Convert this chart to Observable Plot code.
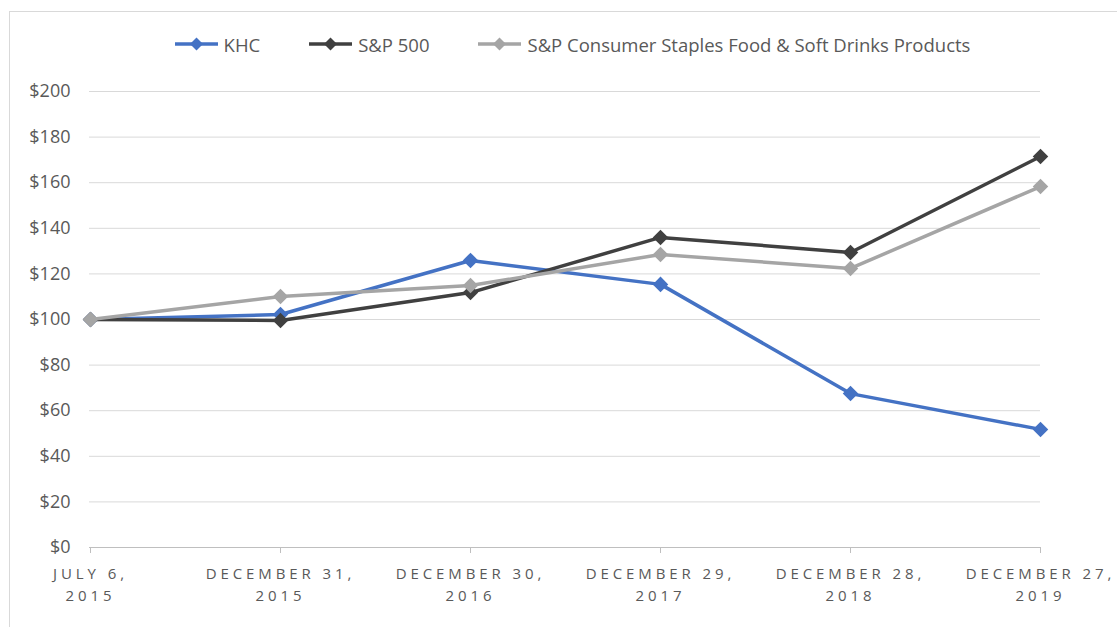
<!DOCTYPE html>
<html>
<head>
<meta charset="utf-8">
<script src="https://cdn.jsdelivr.net/npm/d3@7"></script>
<script src="https://cdn.jsdelivr.net/npm/@observablehq/plot@0.6"></script>
<style>
  html, body { margin: 0; padding: 0; background: #fff; }
  body { width: 1117px; height: 627px; position: relative; overflow: hidden; font-family: "Open Sans", sans-serif; }
  #frame { position: absolute; left: 9px; top: 11px; right: -2px; bottom: -2px; border-left: 1px solid #d9d9d9; border-top: 1px solid #d9d9d9; }
  #legend { position: absolute; top: 30px; left: 0; width: 1117px; height: 28px; display: flex; justify-content: center; align-items: center; gap: 49px; font-size: 18.5px; color: #595959; padding-left: 28px; box-sizing: border-box; }
  .item { display: flex; align-items: center; gap: 6px; }
  #chart { position: absolute; left: 0; top: 75px; }
  #chart g[aria-label="x-axis tick label"] text { letter-spacing: 3.9px; }
</style>
</head>
<body>
<div id="frame"></div>
<div id="legend"></div>
<div id="chart"></div>
<script>
const dates = ["JULY 6,\n2015", "DECEMBER 31,\n2015", "DECEMBER 30,\n2016", "DECEMBER 29,\n2017", "DECEMBER 28,\n2018", "DECEMBER 27,\n2019"];
const seriesNames = ["KHC", "S&P 500", "S&P Consumer Staples Food & Soft Drinks Products"];
const khc = [100, 102.2, 125.9, 115.4, 67.5, 51.8];
const sp500 = [100, 99.6, 111.8, 136.0, 129.4, 171.5];
const staples = [100, 110.1, 114.9, 128.5, 122.4, 158.3];
const yTicks = [0, 20, 40, 60, 80, 100, 120, 140, 160, 180, 200];
const colors = ["#4472C4", "#404040", "#A5A5A5"];

const seriesValues = [khc, sp500, staples];
const data = seriesNames.flatMap((name, i) => dates.map((d, j) => ({series: name, date: d, value: seriesValues[i][j]})));

// legend
const legend = document.getElementById("legend");
seriesNames.forEach((name, i) => {
  const item = document.createElement("div");
  item.className = "item";
  item.innerHTML = `<svg width="43" height="16"><line x1="0" y1="8" x2="43" y2="8" stroke="${colors[i]}" stroke-width="3.5"/><path d="M21.5,1.5 L28,8 L21.5,14.5 L15,8 Z" fill="${colors[i]}"/></svg><span></span>`;
  item.querySelector("span").textContent = name;
  legend.appendChild(item);
});

const marks = [
  Plot.gridY(yTicks.filter(d => d > 0), {stroke: "#d9d9d9", strokeOpacity: 1}),
  Plot.ruleY([0], {stroke: "#bfbfbf", strokeWidth: 1.2}),
  Plot.axisY({ticks: yTicks, tickSize: 0, tickPadding: 19, tickFormat: d => "$" + d, fontSize: 18, fill: "#595959"}),
  Plot.axisX({tickSize: 6, tickPadding: 10, stroke: "#bfbfbf", fontSize: 15, fill: "#595959", lineHeight: 1.45})
];
seriesNames.forEach((name, i) => {
  const sub = data.filter(d => d.series === name);
  marks.push(Plot.line(sub, {x: "date", y: "value", stroke: colors[i], strokeWidth: 3.5}));
  marks.push(Plot.dot(sub, {x: "date", y: "value", fill: colors[i], symbol: "diamond2", r: 7}));
});

const chart = Plot.plot({
  width: 1117,
  height: 552,
  marginLeft: 89,
  marginRight: 77,
  marginTop: 16,
  marginBottom: 80,
  style: {fontFamily: "'Open Sans', sans-serif", color: "#595959", background: "transparent"},
  x: {type: "point", domain: dates, padding: 0, label: null},
  y: {domain: [0, 200], label: null},
  marks
});
document.getElementById("chart").appendChild(chart);
</script>
</body>
</html>
